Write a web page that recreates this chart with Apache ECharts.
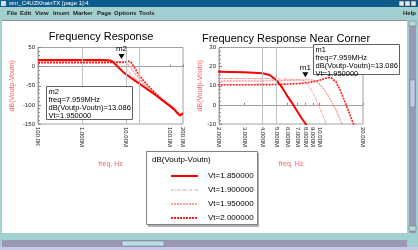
<!DOCTYPE html>
<html><head><meta charset="utf-8">
<script src="https://cdn.jsdelivr.net/npm/echarts@6/dist/echarts.min.js"></script>
<style>html,body{margin:0;padding:0;background:#fff;}#c{width:418px;height:250px;}</style>
</head><body><div id="c"></div>
<script>
// ---- data ----
const freq = [1e5, 3e5, 1e6, 2e6, 3e6, 4e6, 4.5e6, 5e6, 5.5e6, 6e6, 6.5e6, 7e6, 7.5e6, 8e6, 8.5e6, 9e6, 9.5e6, 1e7, 1.05e7, 1.1e7, 1.15e7, 1.2e7, 1.3e7, 1.4e7, 1.5e7, 1.6e7, 1.8e7, 2e7, 2.5e7, 3e7, 4e7, 5e7, 7e7, 1e8, 1.3e8, 1.5e8, 1.7e8, 2e8];
const v185 = [17.5, 17.5, 17.5, 17.3, 17.0, 16.5, 15.6, 13.0, 9.0, 4.3, 0.5, -3.5, -7, -10, -13, -15.5, -17.5, -19.5, -21.5, -23, -24.5, -26, -29, -31.5, -34, -36.5, -40.5, -44, -52, -58, -68, -76, -89, -102, -113, -122, -128, -122];
const v190 = [13.8, 13.8, 13.8, 13.8, 13.8, 13.7, 13.7, 13.6, 13.5, 13.4, 13.3, 13.2, 13.0, 12.2, 9.5, 6.0, 2.5, -1.5, -5.5, -9, -12, -14.5, -19, -23, -27, -30, -36, -41, -50, -57, -68, -77, -91, -105, -115, -121, -126, -123];
const v195 = [12.4, 12.4, 12.4, 12.4, 12.5, 12.5, 12.6, 12.6, 12.7, 12.8, 12.9, 12.95, 13.0, 13.08, 13.2, 13.0, 12.2, 10.8, 9.0, 6.8, 4.5, 2.2, -2.5, -8.5, -13, -17, -24, -31, -44, -53, -66, -76, -91, -105, -116, -122, -127, -123];
const v200 = [10.5, 10.5, 10.5, 10.5, 10.5, 10.6, 10.6, 10.7, 10.8, 10.9, 11.0, 11.1, 11.3, 11.5, 11.8, 12.1, 12.5, 12.9, 13.4, 13.9, 14.3, 14.2, 12.0, 7.0, 1.5, -4, -14, -22, -36, -46, -61, -72, -88, -102, -114, -120, -126, -122];
const seriesNames = ['Vt=1.850000', 'Vt=1.900000', 'Vt=1.950000', 'Vt=2.000000'];
const leftXTicks = [1e5, 1e6, 1e7, 1e8, 2e8];
const rightXTicks = [2e6, 3e6, 4e6, 5e6, 6e6, 7e6, 8e6, 9e6, 1e7, 2e7];
const leftGridFreqs = [1e6, 1e7, 2e7];
const rightGridFreqs = [4e6, 5e6];
const markerFreq = 7.959e6;
const markerVal = 13.086;
const markerText = ['freq=7.959MHz', 'dB(Voutp-Voutn)=13.086', 'Vt=1.950000'];
const menuItems = ['File', 'Edit', 'View', 'Insert', 'Marker', 'Page', 'Options', 'Tools'];
const menuX = [7, 20, 35, 53, 73, 97, 114, 139];

const FONT = 'Liberation Sans';
function fmtF(v) {
  if (v >= 1e6) return (v / 1e6).toPrecision(4) + 'M';
  return (v / 1e3).toPrecision(4) + 'K';
}
const styles = [
  { color: '#ff0000', width: 2, type: 'solid' },
  { color: '#ff9090', width: 1, type: [3, 1, 1, 1] },
  { color: '#ff9c9c', width: 1.5, type: [2, 1] },
  { color: '#ff1a1a', width: 1.6, type: [2, 1] }
];
const legendSample = [
  { color: '#ff0000', width: 2, dash: null },
  { color: '#ff9090', width: 1, dash: [3, 1, 1, 1] },
  { color: '#ff9c9c', width: 2, dash: [2, 1] },
  { color: '#ff1a1a', width: 2, dash: [2, 1] }
];
const allVals = [v185, v190, v195, v200];

function mkSeries(gi) {
  return allVals.map((vals, i) => {
    const s = {
      type: 'line', name: seriesNames[i], xAxisIndex: gi, yAxisIndex: gi,
      data: freq.map((f, k) => [f, vals[k]]),
      symbol: 'none', smooth: false, lineStyle: styles[i], itemStyle: { color: styles[i].color },
      color: styles[i].color,
      z: 3 + (i === 0 ? 1 : 0), animation: false
    };
    if (i === 2) {
      s.markPoint = {
        symbol: 'triangle', symbolRotate: 180, symbolSize: [6, 5], symbolOffset: [0, -5],
        itemStyle: { color: '#000' },
        label: { show: true, position: 'top', distance: 1, formatter: gi === 0 ? 'm2' : 'm1', color: '#000', fontSize: 8, fontFamily: FONT },
        data: [{ coord: [markerFreq, markerVal] }]
      };
    }
    if (i === 0) {
      s.markLine = {
        silent: true, symbol: 'none', animation: false,
        lineStyle: { color: '#c0c0c0', width: 1, type: 'solid' }, label: { show: false },
        data: (gi === 0 ? leftGridFreqs : rightGridFreqs).map(f => ({ xAxis: f }))
      };
    }
    return s;
  });
}

function xAxis(gi, ticks, min, max) {
  return {
    type: 'log', gridIndex: gi, min: min, max: max, logBase: 10,
    name: 'freq, Hz', nameLocation: 'middle', nameGap: 37,
    nameTextStyle: { color: '#ff6060', fontSize: 7, fontFamily: FONT },
    axisLine: { lineStyle: { color: '#a0a0a0' } },
    axisTick: { show: true, inside: true, length: 2, customValues: ticks, lineStyle: { color: '#808080' } },
    axisLabel: { customValues: ticks, rotate: -90, fontSize: 6, color: '#202020', fontFamily: FONT, margin: 3, formatter: fmtF, showMinLabel: true, showMaxLabel: true },
    splitLine: { show: false }, minorTick: { show: false }
  };
}
function yAxis(gi, min, max, interval, gap) {
  return {
    type: 'value', gridIndex: gi, min: min, max: max, interval: interval,
    name: 'dB(Voutp-Voutn)', nameLocation: 'middle', nameGap: gap, nameRotate: 90,
    nameTextStyle: { color: '#ff6060', fontSize: 7, fontFamily: FONT },
    axisLine: { show: true, lineStyle: { color: '#a0a0a0' } },
    axisTick: { show: true, inside: true, length: 3, lineStyle: { color: '#808080' } },
    minorTick: { show: true, splitNumber: 5, length: 2, lineStyle: { color: '#909090' } },
    axisLabel: { fontSize: 6, color: '#202020', fontFamily: FONT, margin: 3 },
    splitLine: { show: false }
  };
}

const chart = echarts.init(document.getElementById('c'), null, { renderer: 'canvas' });

const graphics = [];
// window chrome
graphics.push({ type: 'rect', shape: { x: 0, y: 0, width: 418, height: 7 }, style: { fill: '#0d5c8c' }, z: 0, silent: true });
graphics.push({ type: 'rect', shape: { x: 1, y: 1, width: 5, height: 5 }, style: { fill: '#d0e0f0' }, z: 1 });
graphics.push({ type: 'text', x: 9, y: 3.5, style: { text: 'sim_C4UZKhainTX [page 1]:4', fill: '#ffffff', fontSize: 6, fontFamily: FONT, verticalAlign: 'middle' }, z: 1 });
[401, 407, 413].forEach((x, i) => graphics.push({ type: 'rect', shape: { x: x - 2, y: 1, width: 5, height: 5 }, style: { fill: '#e8e8e8', stroke: '#404040', lineWidth: 0.5 }, z: 1 }));
graphics.push({ type: 'rect', shape: { x: 0, y: 7, width: 418, height: 13 }, style: { fill: '#a2d0d0' }, z: 0 });
menuItems.forEach((m, i) => graphics.push({ type: 'text', x: menuX[i], y: 13.5, style: { text: m, fill: '#202020', fontSize: 6, fontWeight: 'bold', fontFamily: FONT, verticalAlign: 'middle' }, z: 1 }));
graphics.push({ type: 'text', x: 403, y: 13.5, style: { text: 'Help', fill: '#202020', fontSize: 6, fontWeight: 'bold', fontFamily: FONT, verticalAlign: 'middle' }, z: 1 });
// content border
graphics.push({ type: 'rect', shape: { x: 0, y: 20, width: 2, height: 213 }, style: { fill: '#a2d0d0' }, z: 0 });
graphics.push({ type: 'rect', shape: { x: 2, y: 20, width: 406, height: 1 }, style: { fill: '#909090' }, z: 0 });
// right scrollbar
graphics.push({ type: 'rect', shape: { x: 407, y: 20, width: 11, height: 230 }, style: { fill: '#a2d0d0' }, z: 0 });
graphics.push({ type: 'rect', shape: { x: 409, y: 21, width: 7, height: 212 }, style: { fill: '#9a98b2' }, z: 0 });
graphics.push({ type: 'rect', shape: { x: 409, y: 21, width: 7, height: 5 }, style: { fill: '#b8d8d8', stroke: '#707070', lineWidth: 0.5 }, z: 1 });
graphics.push({ type: 'rect', shape: { x: 409, y: 226, width: 7, height: 5 }, style: { fill: '#b8d8d8', stroke: '#707070', lineWidth: 0.5 }, z: 1 });
graphics.push({ type: 'rect', shape: { x: 410, y: 80, width: 5, height: 27 }, style: { fill: '#c8c8e8', stroke: '#707090', lineWidth: 0.5 }, z: 1 });
// bottom scrollbar
graphics.push({ type: 'rect', shape: { x: 0, y: 233, width: 418, height: 17 }, style: { fill: '#a2d0d0' }, z: 0 });
graphics.push({ type: 'rect', shape: { x: 2, y: 240, width: 405, height: 7 }, style: { fill: '#9a98b2' }, z: 0 });
graphics.push({ type: 'rect', shape: { x: 122, y: 241, width: 42, height: 5 }, style: { fill: '#b8e0e0', stroke: '#7070a0', lineWidth: 0.5 }, z: 1 });
graphics.push({ type: 'rect', shape: { x: 0, y: 247, width: 418, height: 3 }, style: { fill: '#c8c8e8' }, z: 0 });
// titles
graphics.push({ type: 'text', x: 101, y: 37, style: { text: 'Frequency Response', fill: '#000', fontSize: 11, fontFamily: FONT, align: 'center', verticalAlign: 'middle' }, z: 5 });
graphics.push({ type: 'text', x: 286, y: 39, style: { text: 'Frequency Response Near Corner', fill: '#000', fontSize: 11, fontFamily: FONT, align: 'center', verticalAlign: 'middle' }, z: 5 });
// marker boxes
function markerBox(x, y, w, h, name) {
  graphics.push({ type: 'rect', shape: { x: x, y: y, width: w, height: h }, style: { fill: '#fff', stroke: '#606060', lineWidth: 1 }, z: 20 });
  graphics.push({ type: 'text', x: x + 2, y: y + 1, style: { text: [name].concat(markerText).join('\n'), fill: '#000', fontSize: 7.5, lineHeight: 8, fontFamily: FONT }, z: 21 });
}
markerBox(46.5, 86.5, 86, 33, 'm2');
markerBox(313.5, 44.5, 86, 30, 'm1');
// legend box
graphics.push({ type: 'rect', shape: { x: 148, y: 153, width: 111, height: 74 }, style: { fill: '#b0b0b0' }, z: 20 });
graphics.push({ type: 'rect', shape: { x: 146.5, y: 151.5, width: 111, height: 73 }, style: { fill: '#fff', stroke: '#808080', lineWidth: 1 }, z: 21 });
graphics.push({ type: 'text', x: 152, y: 160, style: { text: 'dB(Voutp-Voutn)', fill: '#000', fontSize: 8, fontFamily: FONT, verticalAlign: 'middle' }, z: 22 });
// legend line samples (one per legend row)
const legendRowY = [176, 190, 204, 218];
legendSample.forEach((st, i) => graphics.push({
  type: 'line', shape: { x1: 171, y1: legendRowY[i], x2: 198, y2: legendRowY[i] },
  style: { stroke: st.color, lineWidth: st.width, lineDash: st.dash }, z: 40
}));

const option = {
  animation: false,
  textStyle: { fontFamily: FONT },
  grid: [
    { left: 38, top: 47.5, width: 145, height: 76.5, show: true, borderColor: '#a0a0a0', borderWidth: 1, backgroundColor: 'transparent' },
    { left: 219, top: 47.5, width: 144, height: 76.5, show: true, borderColor: '#a0a0a0', borderWidth: 1, backgroundColor: 'transparent' }
  ],
  xAxis: [xAxis(0, leftXTicks, 1e5, 2e8), xAxis(1, rightXTicks, 2e6, 2e7)],
  yAxis: [yAxis(0, -150, 50, 50, 22), yAxis(1, -10, 30, 10, 14)],
  legend: {
    orient: 'vertical', left: 169, top: 167, z: 30,
    itemWidth: 28, itemHeight: 8, itemGap: 6,
    data: seriesNames,
    itemStyle: { opacity: 0 }, lineStyle: { opacity: 0 },
    textStyle: { fontSize: 8, color: '#000', fontFamily: FONT, width: 48, align: 'right' },
    selectedMode: false
  },
  series: mkSeries(0).concat(mkSeries(1)),
  graphic: graphics
};
chart.setOption(option);
</script>
</body></html>
